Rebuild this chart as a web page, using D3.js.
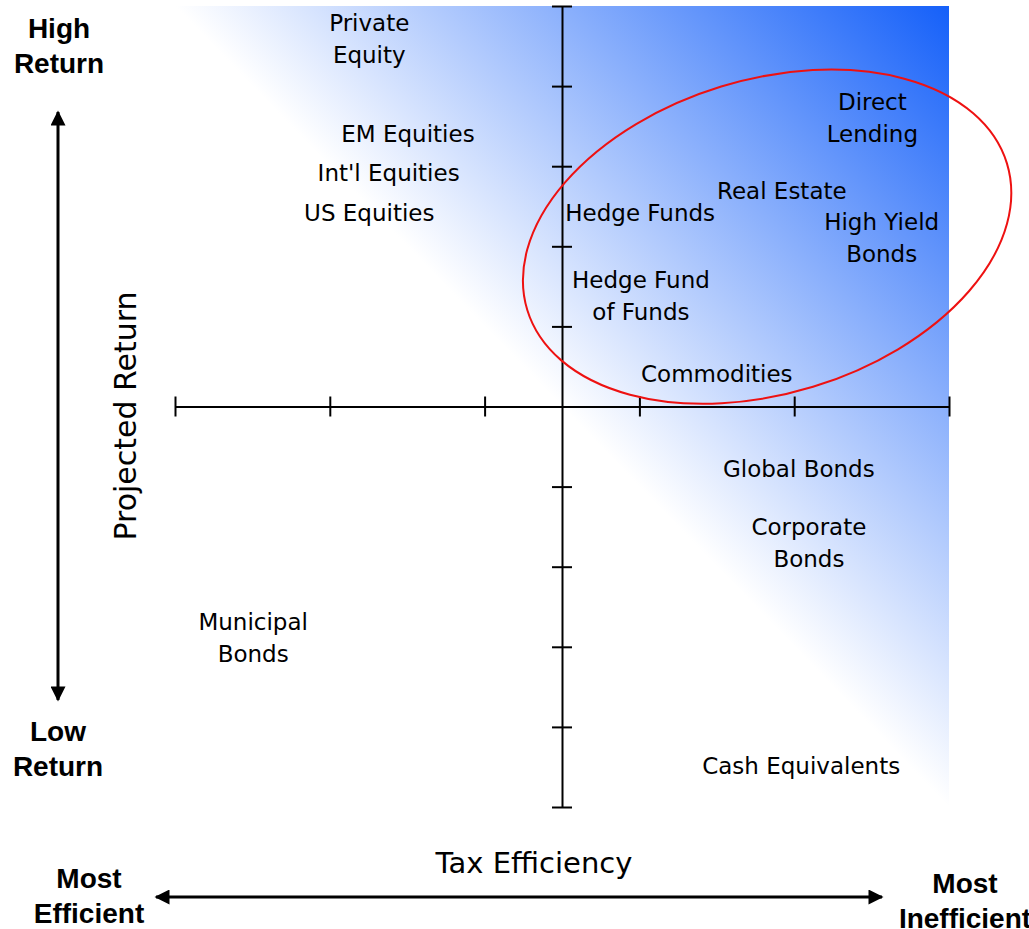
<!DOCTYPE html>
<html>
<head>
<meta charset="utf-8">
<script src="https://cdn.jsdelivr.net/npm/d3@7"></script>
<style>
  body { margin: 0; background: #fff; }
</style>
</head>
<body>
<div id="chart"></div>
<script>
// asset classes placed by tax efficiency (x, 0 = most efficient) and projected return (y)
const names = [
  ["Private", "Equity"], ["EM Equities"], ["Int'l Equities"], ["US Equities"],
  ["Direct", "Lending"], ["Real Estate"], ["Hedge Funds"], ["High Yield", "Bonds"],
  ["Hedge Fund", "of Funds"], ["Commodities"], ["Global Bonds"], ["Corporate", "Bonds"],
  ["Municipal", "Bonds"], ["Cash Equivalents"]
];
const taxEff = [2.51, 3.01, 2.76, 2.51, 9.01, 7.84, 6.01, 9.13, 6.02, 7.0, 8.06, 8.19, 1.01, 8.09];
const projReturn = [4.59, 3.41, 2.92, 2.42, 3.61, 2.7, 2.42, 2.11, 1.38, 0.41, -0.78, -1.7, -2.89, -4.48];
const xTicks = [0, 2, 4, 6, 8, 10];
const yTicks = [-5, -4, -3, -2, -1, 1, 2, 3, 4, 5];
// highlighted group (data units)
const ring = { cx: 7.65, cy: 2.12, rx: 3.24, ry: 1.96, angle: -17 };

const width = 1029;
const height = 929;

const x = d3.scaleLinear().domain([0, 10]).range([175, 949]);
const y = d3.scaleLinear().domain([-5, 5]).range([807, 6]);

const svg = d3.select("#chart")
  .append("svg")
  .attr("width", width)
  .attr("height", height);

const defs = svg.append("defs");

// gradient: white along the diagonal, blue at the top right corner
const x0 = x(0), x1 = x(10), y0 = y(5), y1 = y(-5);
const mx = (x0 + x1) / 2, my = (y0 + y1) / 2;
const dx = x1 - x0, dy = y1 - y0;
const len = Math.hypot(dx, dy);
const nx = dy / len, ny = -dx / len;
const dist = (x1 - mx) * nx + (y0 - my) * ny;

const grad = defs.append("linearGradient")
  .attr("id", "blueFade")
  .attr("gradientUnits", "userSpaceOnUse")
  .attr("x1", mx).attr("y1", my)
  .attr("x2", mx + nx * dist).attr("y2", my + ny * dist);
grad.append("stop").attr("offset", "0%").attr("stop-color", "#ffffff");
grad.append("stop").attr("offset", "100%").attr("stop-color", "#1560f9");

svg.append("path")
  .attr("d", `M${x0},${y0}L${x1},${y0}L${x1},${y1}Z`)
  .attr("fill", "url(#blueFade)");

// arrow marker
defs.append("marker")
  .attr("id", "arrow")
  .attr("viewBox", "0 0 10 10")
  .attr("refX", 9).attr("refY", 5)
  .attr("markerWidth", 5.5).attr("markerHeight", 5)
  .attr("markerUnits", "strokeWidth")
  .attr("orient", "auto-start-reverse")
  .append("path")
  .attr("d", "M0,0L10,5L0,10Z")
  .attr("fill", "#000");

// axes crossing in the middle
const xAxis = d3.axisBottom(x).tickValues(xTicks).tickSize(20).tickFormat("").tickSizeOuter(0);
const gx = svg.append("g")
  .attr("transform", `translate(0,${y(0) - 10})`)
  .call(xAxis);
gx.select(".domain").attr("transform", "translate(0,10)");

const yAxis = d3.axisLeft(y).tickValues(yTicks).tickSize(20).tickFormat("").tickSizeOuter(0);
const gy = svg.append("g")
  .attr("transform", `translate(${x(5) + 10},0)`)
  .call(yAxis);
gy.select(".domain").attr("transform", "translate(-10,0)");

svg.selectAll(".domain, .tick line")
  .attr("stroke", "#000")
  .attr("stroke-width", 2);

// ring around alternatives
svg.append("ellipse")
  .attr("cx", x(ring.cx))
  .attr("cy", y(ring.cy))
  .attr("rx", x(ring.rx) - x(0))
  .attr("ry", y(0) - y(ring.ry))
  .attr("transform", `rotate(${ring.angle},${x(ring.cx)},${y(ring.cy)})`)
  .attr("fill", "none")
  .attr("stroke", "#ee1111")
  .attr("stroke-width", 2);

// labels
const lineH = 32;
const labels = svg.append("g")
  .attr("font-family", "DejaVu Sans, Verdana, sans-serif")
  .attr("font-size", 23)
  .attr("fill", "#000")
  .attr("text-anchor", "middle");

names.forEach((lines, i) => {
  const t = labels.append("text")
    .attr("x", x(taxEff[i]))
    .attr("y", y(projReturn[i]) - (lines.length - 1) * lineH / 2);
  lines.forEach((s, j) => {
    t.append("tspan")
      .attr("x", x(taxEff[i]))
      .attr("dy", j === 0 ? "0.36em" : lineH)
      .text(s);
  });
});

// axis titles
svg.append("text")
  .attr("transform", "translate(136,416) rotate(-90)")
  .attr("text-anchor", "middle")
  .attr("font-family", "DejaVu Sans, Verdana, sans-serif")
  .attr("font-size", 30)
  .attr("fill", "#000")
  .text("Projected Return");

svg.append("text")
  .attr("x", 534)
  .attr("y", 873)
  .attr("text-anchor", "middle")
  .attr("font-family", "DejaVu Sans, Verdana, sans-serif")
  .attr("font-size", 29)
  .attr("fill", "#000")
  .text("Tax Efficiency");

// end labels
const bold = svg.append("g")
  .attr("font-family", "Liberation Sans, Arial, sans-serif")
  .attr("font-weight", "bold")
  .attr("font-size", 28)
  .attr("fill", "#000")
  .attr("text-anchor", "middle");

const endLabel = (cx, cy, a, b) => {
  bold.append("text").attr("x", cx).attr("y", cy).text(a);
  bold.append("text").attr("x", cx).attr("y", cy + 35).text(b);
};
endLabel(59, 38, "High", "Return");
endLabel(58, 741, "Low", "Return");
endLabel(89, 888, "Most", "Efficient");
endLabel(965, 893, "Most", "Inefficient");

// arrows
svg.append("line")
  .attr("x1", 58).attr("y1", 112)
  .attr("x2", 58).attr("y2", 700)
  .attr("stroke", "#000").attr("stroke-width", 3)
  .attr("marker-start", "url(#arrow)")
  .attr("marker-end", "url(#arrow)");

svg.append("line")
  .attr("x1", 156).attr("y1", 897)
  .attr("x2", 882).attr("y2", 897)
  .attr("stroke", "#000").attr("stroke-width", 3)
  .attr("marker-start", "url(#arrow)")
  .attr("marker-end", "url(#arrow)");
</script>
</body>
</html>
